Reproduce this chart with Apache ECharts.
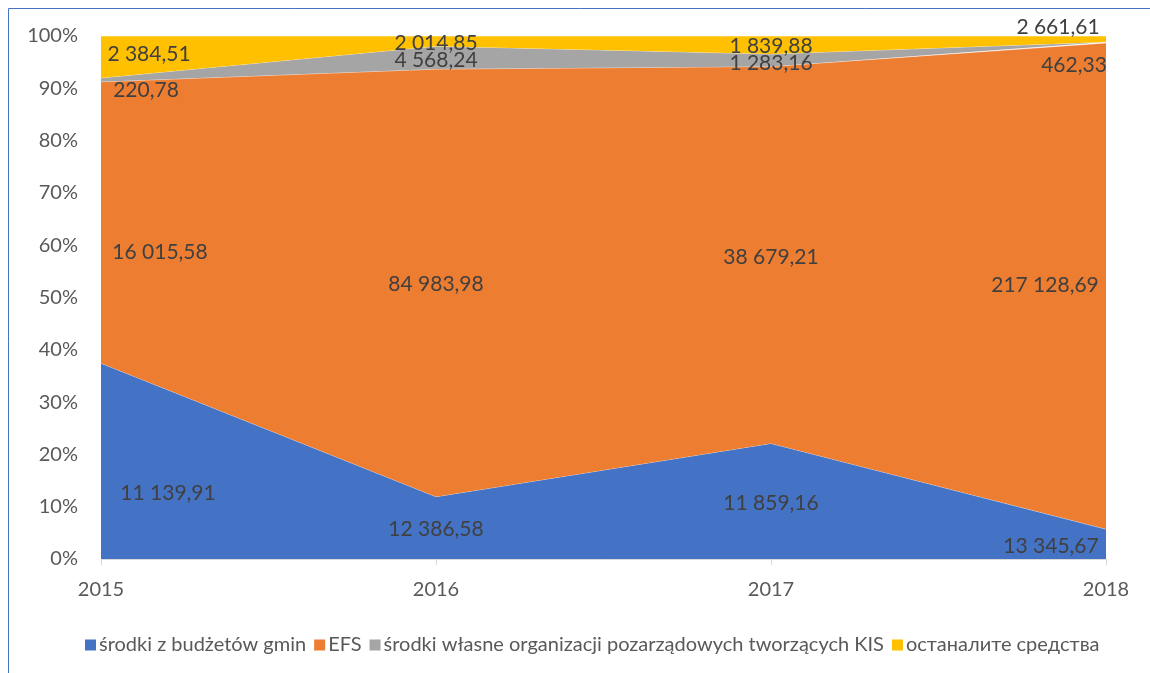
<!DOCTYPE html>
<html>
<head>
<meta charset="utf-8">
<script src="https://cdn.jsdelivr.net/npm/echarts@6/dist/echarts.min.js"></script>
<style>
html,body{margin:0;padding:0;background:#fff;}
#chart{width:1150px;height:673px;}
</style>
</head>
<body>
<div id="chart"></div>
<script>
// ---- data ----
const categories = ['2015', '2016', '2017', '2018'];
const seriesNames = ['środki z budżetów gmin', 'EFS', 'środki własne organizacji pozarządowych tworzących KIS', 'останалите средства'];
const gmin = [11139.91, 12386.58, 11859.16, 13345.67];
const efs = [16015.58, 84983.98, 38679.21, 217128.69];
const wlasne = [220.78, 4568.24, 1283.16, 462.33];
const pozostale = [2384.51, 2014.85, 1839.88, 2661.61];

// ---- styles (layout only) ----
const colors = ['#4472C4', '#ED7D31', '#A5A5A5', '#FFC000'];
const labelOffsets = [
  [[67, 130], [0, 33], [0, 60], [-55, 17]],
  [[59, 170], [0, 215], [0, 191], [-61, 242]],
  [[45, 12], [0, 14], [0, 9], [-32, 23]],
  [[48, 18], [0, 7], [0, 10], [-48, -9]]
];
const FONT = 'Lato, "Open Sans", sans-serif';

const raw = [gmin, efs, wlasne, pozostale];
const totals = categories.map((_, i) => raw.reduce((s, arr) => s + arr[i], 0));

function fmt(v) {
  const parts = v.toFixed(2).split('.');
  const int = parts[0].replace(/\B(?=(\d{3})+(?!\d))/g, ' ');
  return int + ',' + parts[1];
}

const series = raw.map((arr, si) => ({
  name: seriesNames[si],
  type: 'line',
  stack: 'total',
  symbol: 'circle',
  symbolSize: 0,
  showSymbol: true,
  color: colors[si],
  lineStyle: { width: 1, color: 'rgba(255,255,255,0.55)' },
  areaStyle: { color: colors[si], opacity: 1 },
  itemStyle: { color: colors[si] },
  emphasis: { disabled: true },
  z: 2 + si,
  data: arr.map((v, i) => ({
    value: v / totals[i] * 100,
    raw: v,
    label: { offset: labelOffsets[si][i] }
  })),
  label: {
    show: true,
    position: 'inside',
    color: '#404040',
    fontFamily: FONT,
    fontSize: 21,
    formatter: p => fmt(p.data.raw)
  }
}));

const chart = echarts.init(document.getElementById('chart'), null, { renderer: 'canvas' });
chart.setOption({
  backgroundColor: '#fff',
  animation: false,
  graphic: [{
    type: 'rect',
    shape: { x: 8.5, y: 8.5, width: 1300, height: 1000 },
    style: { fill: 'none', stroke: '#4472C4', lineWidth: 1 },
    silent: true
  }],
  grid: { left: 101, right: 44, top: 36, bottom: 114 },
  legend: {
    data: seriesNames,
    left: 80,
    top: 630,
    icon: 'rect',
    itemWidth: 11,
    itemHeight: 11,
    itemGap: 8,
    textStyle: { color: '#595959', fontFamily: FONT, fontSize: 20, padding: [0, 0, 0, -2] }
  },
  xAxis: {
    type: 'category',
    data: categories,
    boundaryGap: false,
    axisLine: { lineStyle: { color: '#D9D9D9' } },
    axisTick: { show: true, length: 6, lineStyle: { color: '#D9D9D9' } },
    axisLabel: { color: '#595959', fontFamily: FONT, fontSize: 20, margin: 21 },
    splitLine: { show: false }
  },
  yAxis: {
    type: 'value',
    min: 0,
    max: 100,
    interval: 10,
    axisLine: { show: false },
    axisTick: { show: false },
    axisLabel: { color: '#595959', fontFamily: FONT, fontSize: 20, margin: 23, formatter: '{value}%' },
    splitLine: { show: true, lineStyle: { color: '#D9D9D9' } }
  },
  series: series
});
</script>
</body>
</html>
